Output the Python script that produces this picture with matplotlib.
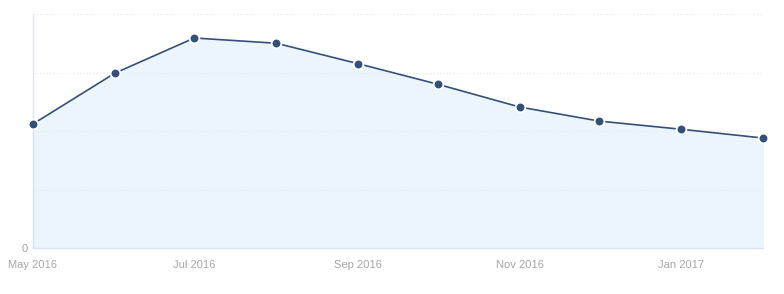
import numpy as np
import pandas as pd
import matplotlib
matplotlib.use("Agg")
import matplotlib.pyplot as plt
import matplotlib.dates as mdates

# monthly values (y axis has only the 0 label, values read in gridline units)
months = pd.date_range("2016-05-01", "2017-02-01", freq="MS")
values = [2.12, 2.99, 3.59, 3.50, 3.15, 2.80, 2.41, 2.17, 2.03, 1.88]
tick_dates = pd.to_datetime(["2016-05-01", "2016-07-01", "2016-09-01", "2016-11-01", "2017-01-01"])
tick_labels = ["May 2016", "Jul 2016", "Sep 2016", "Nov 2016", "Jan 2017"]

line_col = "#34507a"
fill_col = "#edf5fc"
grid_col = "#e3e8ee"
text_col = "#a6a6a6"

plt.rcParams['font.family'] = ['Liberation Sans', 'DejaVu Sans']

fig = plt.figure(figsize=(7.84, 2.94), dpi=100)
ax = fig.add_axes([33 / 784, 46 / 294, 730 / 784, 234 / 294])

ax.fill_between(months, values, 0, color=fill_col, zorder=1)
ax.plot(months, values, color=line_col, lw=1.2, zorder=3)
ax.plot(months, values, 'o', color=line_col, ms=7, mec="white", mew=1.3, zorder=4,
        clip_on=False)

ax.set_xlim(months[0], months[-1])
ax.set_ylim(0, 4)
ax.set_yticks([0, 1, 2, 3, 4])
ax.set_yticklabels(["0", "", "", "", ""])
ax.set_xticks(tick_dates)
ax.set_xticklabels(tick_labels)

for y in [1, 2, 3, 4]:
    ax.axhline(y, color=grid_col, lw=0.8, ls=(0, (1, 2)), zorder=2)

for side in ["top", "right"]:
    ax.spines[side].set_visible(False)
ax.spines["left"].set_color("#dde3ea")
ax.spines["bottom"].set_color("#dde3ea")
ax.spines["left"].set_linewidth(1)
ax.spines["bottom"].set_linewidth(1)

ax.tick_params(axis="both", length=0, colors=text_col, labelsize=8)
ax.tick_params(axis="x", pad=9)
ax.tick_params(axis="y", pad=4)

fig.savefig("out.png", dpi=100, facecolor="white")
